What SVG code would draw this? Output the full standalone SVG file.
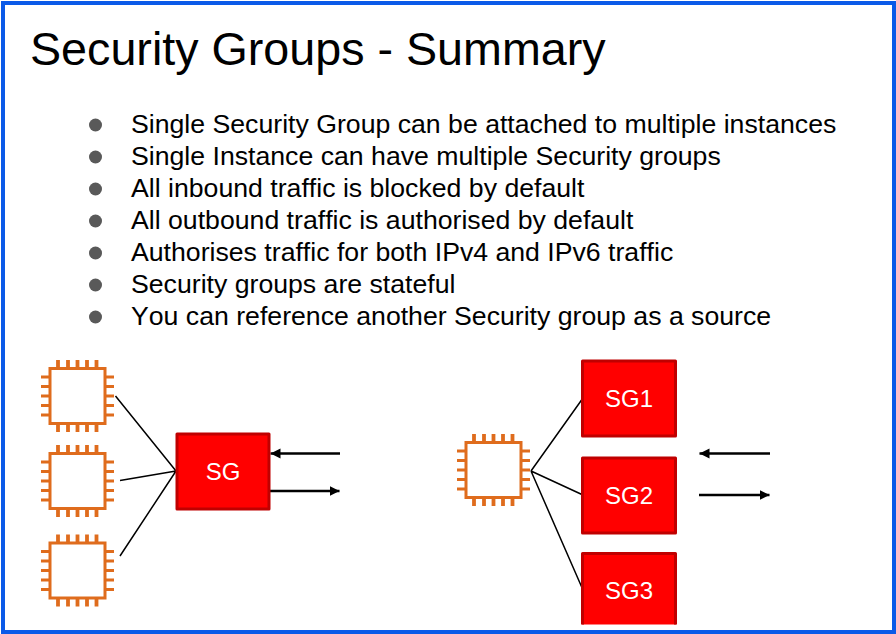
<svg xmlns="http://www.w3.org/2000/svg" width="896" height="634" viewBox="0 0 896 634">
<style>
text{font-family:"Liberation Sans",Arial,sans-serif;font-kerning:none}
.title{font-size:46.670px;fill:#000}
.item{font-size:26.670px;fill:#000}
.bullet{fill:#595959}
.sg{fill:#f00;stroke:#c00000;stroke-width:3;stroke-linejoin:round}
.sgt{font-size:24px;fill:#fff;text-anchor:middle}
.link{stroke:#000;stroke-width:1.500;fill:none}
.flow{stroke:#000;stroke-width:2.400;fill:none}
.body{fill:#fff;stroke:#df6c1d;stroke-width:3}
.pinv{stroke:#df6c1d;stroke-width:3.800;fill:none}
.pinh{stroke:#df6c1d;stroke-width:3.200;fill:none}
</style>
<defs>
<marker id="arrow" markerUnits="userSpaceOnUse" markerWidth="11" markerHeight="11" refX="10" refY="5.500" orient="auto"><path d="M0 0.500L10 5.500L0 10.500Z" fill="#000"/></marker>
<g id="chip">
<path class="pinv" d="M-19.500-36V-28M-9.500-36V-28M0-36V-28M9.500-36V-28M19-36V-28M-19.500 28V36M-9.500 28V36M0 28V36M9.500 28V36M19 28V36"/>
<path class="pinh" d="M-36.500-19H-28M-36.500-9.500H-28M-36.500 0H-28M-36.500 9.500H-28M-36.500 19H-28M28-19H36.500M28-9.500H36.500M28 0H36.500M28 9.500H36.500M28 19H36.500"/>
<rect class="body" x="-27.500" y="-27.500" width="55" height="55"/>
</g>
</defs>
<rect width="896" height="634" fill="#fff"/>
<rect id="frame" x="3" y="3" width="891" height="629" fill="none" stroke="#0b5ae8" stroke-width="4"/>
<text class="title" x="30" y="65">Security Groups - Summary</text>
<g id="bullets">
<circle class="bullet" cx="95.500" cy="125" r="6.500"/><text class="item" x="131" y="133">Single Security Group can be attached to multiple instances</text>
<circle class="bullet" cx="95.500" cy="157" r="6.500"/><text class="item" x="131" y="165">Single Instance can have multiple Security groups</text>
<circle class="bullet" cx="95.500" cy="189" r="6.500"/><text class="item" x="131" y="197">All inbound traffic is blocked by default</text>
<circle class="bullet" cx="95.500" cy="221" r="6.500"/><text class="item" x="131" y="229">All outbound traffic is authorised by default</text>
<circle class="bullet" cx="95.500" cy="253" r="6.500"/><text class="item" x="131" y="261">Authorises traffic for both IPv4 and IPv6 traffic</text>
<circle class="bullet" cx="95.500" cy="285" r="6.500"/><text class="item" x="131" y="293">Security groups are stateful</text>
<circle class="bullet" cx="95.500" cy="317" r="6.500"/><text class="item" x="131" y="325">You can reference another Security group as a source</text>
</g>
<g id="connectors">
<path class="link" d="M115.500 396L176 471M120 480.500L176 471M120 556L176 471"/>
<path class="link" d="M531 471L583 398M531 471L583 495M531 471L583 590"/>
<path class="flow" marker-end="url(#arrow)" d="M340 453.500H270.500"/>
<path class="flow" marker-end="url(#arrow)" d="M270 491H339.500"/>
<path class="flow" marker-end="url(#arrow)" d="M770 453.500H699.500"/>
<path class="flow" marker-end="url(#arrow)" d="M699 495H769.500"/>
</g>
<g id="instance-1"><use href="#chip" x="77.500" y="396"/></g>
<g id="instance-2"><use href="#chip" x="77.500" y="481"/></g>
<g id="instance-3"><use href="#chip" x="77.500" y="570.500"/></g>
<g id="instance-4"><use href="#chip" x="493.500" y="470"/></g>
<g id="sg"><rect class="sg" x="177" y="434" width="92" height="75"/><text class="sgt" x="223" y="480">SG</text></g>
<g id="sg1"><rect class="sg" x="582.500" y="361" width="93" height="75"/><text class="sgt" x="629" y="407">SG1</text></g>
<g id="sg2"><rect class="sg" x="582.500" y="458" width="93" height="75"/><text class="sgt" x="629" y="504">SG2</text></g>
<g id="sg3"><path fill="#f00" d="M582 553.500H676V624.500H582Z"/><path fill="none" stroke="#c00000" stroke-width="3" stroke-linejoin="round" d="M582.500 624.500V553.500H675.500V624.500"/><text class="sgt" x="629" y="599">SG3</text></g>
</svg>
